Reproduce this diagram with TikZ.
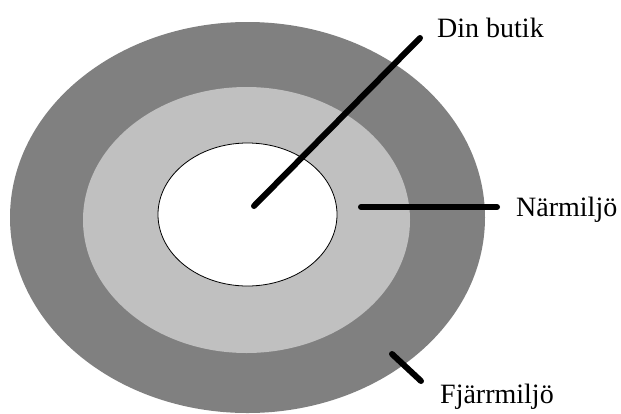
\documentclass[tikz,border=0pt]{standalone}
\usepackage{fontspec}
\setmainfont{Liberation Serif}
\usepackage{tikz}
\usetikzlibrary{shapes.geometric}
\definecolor{farzone}{HTML}{808080}
\definecolor{nearzone}{HTML}{C0C0C0}

\begin{document}
\begin{tikzpicture}[x=1pt, y=-1pt, font=\fontsize{28}{31}\selectfont,
  zone/.style={ellipse, inner sep=0pt, outer sep=0pt, fill=#1},
  zone/.default=white, lead/.style={line width=6pt, line cap=round},
  lbl/.style={anchor=base west, inner sep=0pt}]
\useasboundingbox (0,0) rectangle (621,413);
% three zones
\node[zone=farzone, minimum width=475pt, minimum height=391pt] (far) at (247.5,217.5) {};
\node[zone=nearzone, minimum width=327pt, minimum height=266pt] (near) at (246.5,220) {};
\node[zone, draw=black, line width=0.8pt, minimum width=179pt, minimum height=143pt] (shop) at (247.5,214.5) {};
% labels
\node[lbl] (shoplbl) at (437,37) {Din butik};
\node[lbl] (nearlbl) at (516,216) {Närmiljö};
\node[lbl] (farlbl) at (440,403) {Fjärrmiljö};
% leader ends
\coordinate (shopin) at (254,206); \coordinate (shopout) at (420,38);
\coordinate (nearin) at (361,207); \coordinate (nearout) at (497,207);
\coordinate (farin) at (392,354); \coordinate (farout) at (421,381);
\draw[lead] (shopin) -- (shopout);
\draw[lead] (nearin) -- (nearout);
\draw[lead] (farin) -- (farout);
\end{tikzpicture}
\end{document}
